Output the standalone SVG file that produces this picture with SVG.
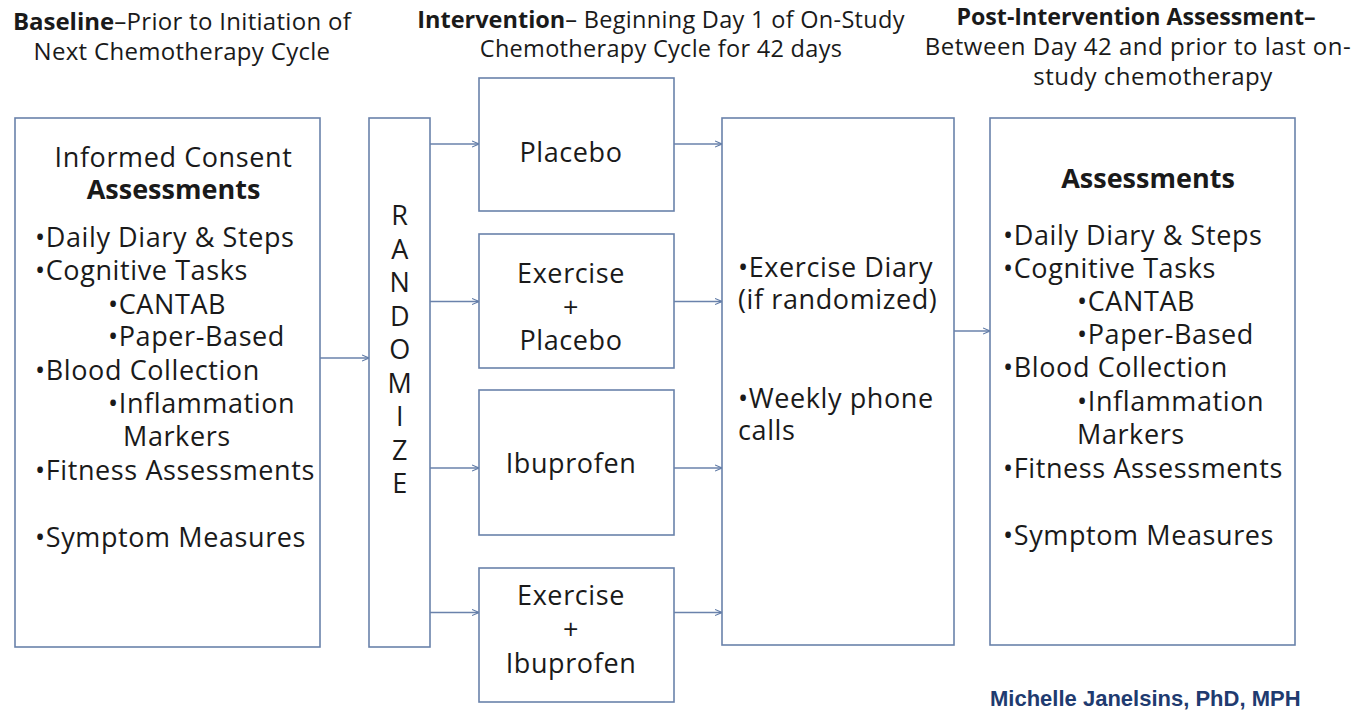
<svg xmlns="http://www.w3.org/2000/svg" width="1353" height="710" viewBox="0 0 1353 710">
<defs>
<marker id="arr" viewBox="0 0 8 8" refX="7.5" refY="4" markerWidth="8" markerHeight="8" markerUnits="userSpaceOnUse" orient="auto">
<path d="M0.5,1 L7.5,4 L0.5,7" fill="none" stroke="#5f7aa6" stroke-width="1.1"/>
</marker>
<style>
.box{fill:#fff;stroke:#6a82ab;stroke-width:1.6}
.t{font-family:"Open Sans","Noto Sans","Liberation Sans",sans-serif;font-size:27px;letter-spacing:0.6px;fill:#1a1a1a}
.h{font-family:"Open Sans","Noto Sans","Liberation Sans",sans-serif;font-size:24px;letter-spacing:0.3px;fill:#1a1a1a}
.b{font-weight:bold;letter-spacing:0}
.m{text-anchor:middle}
.c{fill:none;stroke:#6a82ab;stroke-width:1.3;marker-end:url(#arr)}
.auth{font-family:"Liberation Sans",Arial,sans-serif;font-size:22px;font-weight:bold;fill:#1f3b70}
</style>
</defs>
<rect width="1353" height="710" fill="#fff"/>

<g id="headers">
<text class="h m" x="182" y="30"><tspan class="b">Baseline</tspan>–Prior to Initiation of</text>
<text class="h m" x="182" y="60">Next Chemotherapy Cycle</text>
<text class="h m" x="661" y="28" style="font-size:23.5px"><tspan class="b">Intervention</tspan>– Beginning Day 1 of On-Study</text>
<text class="h m" x="661" y="57" style="font-size:23.5px">Chemotherapy Cycle for 42 days</text>
<text class="h m b" x="1136" y="25" style="font-size:23.2px">Post-Intervention Assessment–</text>
<text class="h m" x="1138" y="55" style="letter-spacing:0.5px">Between Day 42 and prior to last on-</text>
<text class="h m" x="1153" y="85" style="letter-spacing:0.5px">study chemotherapy</text>
</g>

<g id="connectors">
<line class="c" x1="320" y1="358" x2="369" y2="358"/>
<line class="c" x1="430" y1="144" x2="479" y2="144"/>
<line class="c" x1="430" y1="301.5" x2="479" y2="301.5"/>
<line class="c" x1="430" y1="468" x2="479" y2="468"/>
<line class="c" x1="430" y1="612.5" x2="479" y2="612.5"/>
<line class="c" x1="674" y1="144" x2="722" y2="144"/>
<line class="c" x1="674" y1="301.5" x2="722" y2="301.5"/>
<line class="c" x1="674" y1="468" x2="722" y2="468"/>
<line class="c" x1="674" y1="612.5" x2="722" y2="612.5"/>
<line class="c" x1="954" y1="331" x2="990" y2="331"/>
</g>

<g id="baseline">
<rect class="box" x="15" y="118" width="305" height="529"/>
<text class="t m" x="173.5" y="167">Informed Consent</text>
<text class="t m b" x="173.5" y="199">Assessments</text>
<text class="t" x="35" y="247">•Daily Diary &amp; Steps</text>
<text class="t" x="35" y="280">•Cognitive Tasks</text>
<text class="t" x="108" y="314">•CANTAB</text>
<text class="t" x="108" y="346">•Paper-Based</text>
<text class="t" x="35" y="380">•Blood Collection</text>
<text class="t" x="108" y="413">•Inflammation</text>
<text class="t" x="123" y="446">Markers</text>
<text class="t" x="35" y="480">•Fitness Assessments</text>
<text class="t" x="35" y="547">•Symptom Measures</text>
</g>

<g id="randomize">
<rect class="box" x="369" y="118" width="61" height="529"/>
<text class="t m" x="400" y="225">R</text>
<text class="t m" x="400" y="259">A</text>
<text class="t m" x="400" y="292">N</text>
<text class="t m" x="400" y="326">D</text>
<text class="t m" x="400" y="359">O</text>
<text class="t m" x="400" y="393">M</text>
<text class="t m" x="400" y="426">I</text>
<text class="t m" x="400" y="460">Z</text>
<text class="t m" x="400" y="493">E</text>
</g>

<g id="placebo">
<rect class="box" x="479" y="78" width="195" height="133"/>
<text class="t m" x="571" y="162">Placebo</text>
</g>

<g id="exercise-placebo">
<rect class="box" x="479" y="234" width="195" height="134"/>
<text class="t m" x="571" y="283">Exercise</text>
<text class="t m" x="571" y="317">+</text>
<text class="t m" x="571" y="350">Placebo</text>
</g>

<g id="ibuprofen">
<rect class="box" x="479" y="390" width="195" height="145"/>
<text class="t m" x="571" y="473">Ibuprofen</text>
</g>

<g id="exercise-ibuprofen">
<rect class="box" x="479" y="568" width="195" height="134"/>
<text class="t m" x="571" y="605">Exercise</text>
<text class="t m" x="571" y="639">+</text>
<text class="t m" x="571" y="673">Ibuprofen</text>
</g>

<g id="intervention">
<rect class="box" x="722" y="118" width="232" height="527"/>
<text class="t" x="738" y="277">•Exercise Diary</text>
<text class="t" x="738" y="309">(if randomized)</text>
<text class="t" x="738" y="408">•Weekly phone</text>
<text class="t" x="738" y="440">calls</text>
</g>

<g id="post-assessment">
<rect class="box" x="990" y="118" width="305" height="527"/>
<text class="t m b" x="1148" y="188">Assessments</text>
<text class="t" x="1003" y="245">•Daily Diary &amp; Steps</text>
<text class="t" x="1003" y="278">•Cognitive Tasks</text>
<text class="t" x="1077" y="311">•CANTAB</text>
<text class="t" x="1077" y="344">•Paper-Based</text>
<text class="t" x="1003" y="377">•Blood Collection</text>
<text class="t" x="1077" y="411">•Inflammation</text>
<text class="t" x="1077" y="444">Markers</text>
<text class="t" x="1003" y="478">•Fitness Assessments</text>
<text class="t" x="1003" y="545">•Symptom Measures</text>
</g>

<g id="author">
<text class="auth" x="990" y="706">Michelle Janelsins, PhD, MPH</text>
</g>
</svg>
